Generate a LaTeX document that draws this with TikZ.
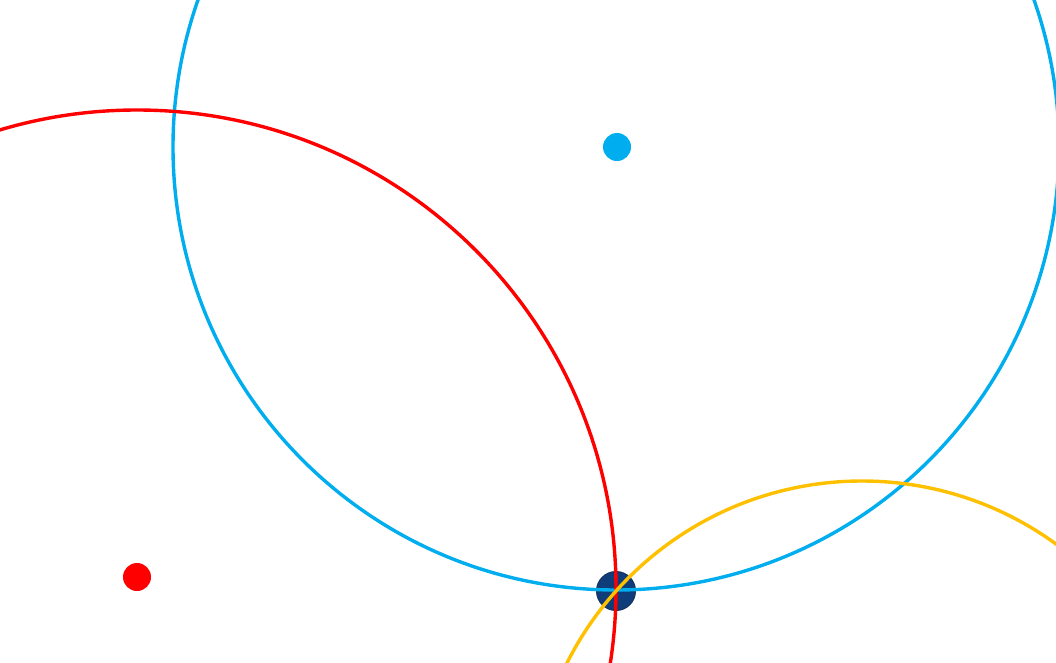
\documentclass[tikz,border=0pt]{standalone}
\usepackage{tikz}
\definecolor{cblue}{HTML}{00AEEF}
\definecolor{cred}{HTML}{FF0000}
\definecolor{cyel}{HTML}{FFC000}
\definecolor{cnavy}{HTML}{0E3D7A}
\definecolor{cnavyb}{HTML}{1A3260}
\begin{document}
\begin{tikzpicture}[x=1pt,y=-1pt,
  ring/.style={line width=3.4pt},
  dot/.style={circle,inner sep=0pt,minimum size=28pt,fill=#1}]
\useasboundingbox (0,0) rectangle (1056,662);
\clip (0,0) rectangle (1056,662);
\node[circle,inner sep=0pt,minimum size=39pt,fill=cnavy,draw=cnavyb,line width=1pt] (p) at (616,591) {};
\node[dot=cblue] (b) at (617,147) {};
\node[dot=cred] (r) at (137,577) {};
\draw[ring,cblue] (616,147) circle[radius=443];
\draw[ring,cred] (137,589) circle[radius=479];
\draw[ring,cyel] (862,811) circle[radius=330];
\end{tikzpicture}
\end{document}
